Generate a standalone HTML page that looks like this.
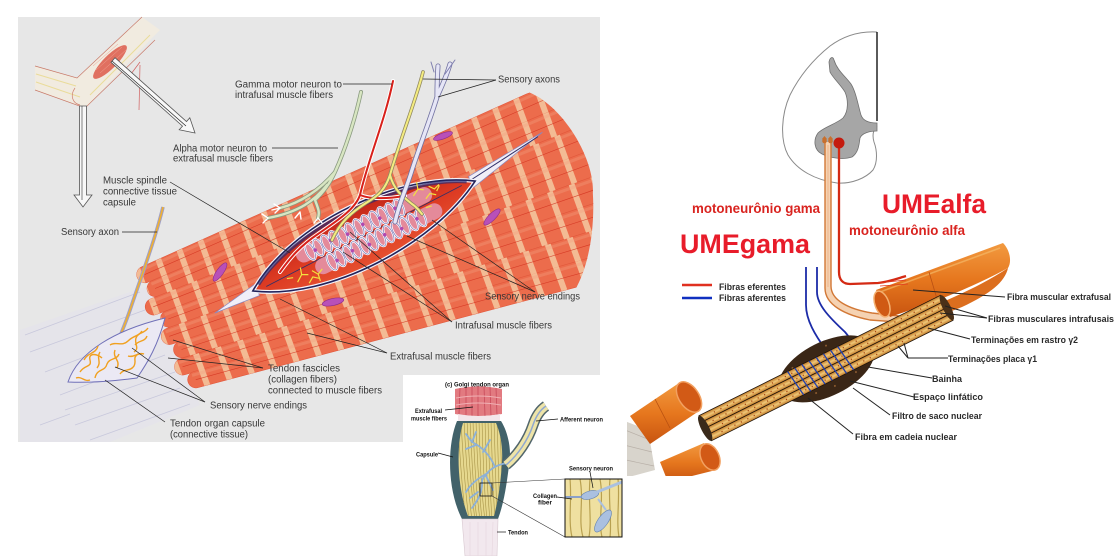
<!DOCTYPE html>
<html><head><meta charset="utf-8"><title>Muscle spindle and Golgi tendon organ</title>
<style>html,body{margin:0;padding:0;background:#fff;width:1116px;height:556px;overflow:hidden}svg{display:block}</style>
</head><body>
<svg xmlns="http://www.w3.org/2000/svg" width="1116" height="556" viewBox="0 0 1116 556" font-family="'Liberation Sans', sans-serif">
<defs>
<clipPath id="cap"><path d="M-40,-145 L432,-106 C460,-80 470,-20 457,10 C445,50 425,80 407,95 L-40,125 Z"/></clipPath>
<pattern id="s0" patternUnits="userSpaceOnUse" width="23" height="300"><rect x="0" y="0" width="6" height="300" fill="#f5c9a2"/></pattern>
<pattern id="s1" patternUnits="userSpaceOnUse" width="23" height="300" patternTransform="translate(3,0)"><rect x="0" y="0" width="6" height="300" fill="#f5c9a2"/></pattern>
<linearGradient id="org" x1="0" y1="0" x2="0" y2="1"><stop offset="0" stop-color="#f29a40"/><stop offset=".5" stop-color="#e6771e"/><stop offset="1" stop-color="#c85410"/></linearGradient>
<linearGradient id="tube" x1="0" y1="0" x2="0" y2="1"><stop offset="0" stop-color="#c07828"/><stop offset=".5" stop-color="#f0c878"/><stop offset="1" stop-color="#c07828"/></linearGradient>
<linearGradient id="spR" x1="0" y1="0" x2="0" y2="1"><stop offset="0" stop-color="#c0241a"/><stop offset=".5" stop-color="#dc3a22"/><stop offset="1" stop-color="#e65030"/></linearGradient>
<clipPath id="rclip"><rect x="600" y="0" width="516" height="476"/></clipPath>
<clipPath id="capsIn"><path d="M463,423 C456,446 457,488 468,516 L494,516 C499,497 501,478 502,462 C503,446 500,432 496,423Z"/></clipPath>
<clipPath id="zbox"><rect x="565" y="479" width="57" height="58"/></clipPath>
</defs>

<rect width="1116" height="556" fill="#fff"/>
<!-- LEFT PANEL -->
<rect x="18" y="17" width="582" height="425" fill="#e7e7e7"/>

<!-- arm sketch -->
<path d="M35,66 L77,78 L142,17 L160,30 L150,40 L85,108 L35,90Z" fill="#f1ebe0"/>
<path d="M35,66 L77,78 L142,17 M35,90 L85,108 L155,40" stroke="#c87a6a" stroke-width="0.7" fill="none"/>
<path d="M36,74 L76,86 M36,82 L80,97 M90,95 L150,35" stroke="#eadc9a" stroke-width="1" fill="none"/>
<path d="M75,88 C70,95 72,103 80,105" stroke="#d08070" stroke-width="0.7" fill="none"/>
<ellipse cx="110" cy="62" rx="23" ry="6.5" transform="rotate(-45 110 62)" fill="#e07060"/>
<path d="M96,70 L122,47 M100,73 L126,50 M93,66 L118,44" stroke="#f0a090" stroke-width="0.5"/>
<path d="M140,65 L139,110 M140,62 L131,74" stroke="#d06060" stroke-width="0.7" fill="none"/>
<!-- hollow arrows -->
<path d="M111,62.3 L182.5,126.1 L179.2,129.8 L195,133 L189.8,117.8 L186.5,121.5 L115,57.7Z" fill="#f8f8f8" stroke="#555" stroke-width="0.8"/>
<path d="M112,61 L186,126" stroke="#222" stroke-width="0.7"/>
<path d="M79.5,106 L79.5,195 L74,195 L83,207 L92,195 L86.5,195 L86.5,106Z" fill="#f8f8f8" stroke="#555" stroke-width="0.8"/>
<path d="M82,106 L82,200" stroke="#333" stroke-width="0.6"/>

<!-- tendon haze & lines -->
<path d="M20,330 L150,285 L200,405 L110,442 L20,442Z" fill="#e4e2f0" opacity=".4"/>
<g stroke="#c8c8dc" stroke-width="0.8">
<line x1="25" y1="335" x2="140" y2="292"/><line x1="30" y1="352" x2="145" y2="310"/>
<line x1="45" y1="372" x2="150" y2="332"/><line x1="60" y1="395" x2="165" y2="355"/>
<line x1="65" y1="410" x2="175" y2="372"/><line x1="75" y1="425" x2="180" y2="388"/>
<line x1="90" y1="440" x2="190" y2="404"/><line x1="40" y1="425" x2="70" y2="414"/>
</g>

<!-- muscle bundle -->
<g transform="translate(160,340) rotate(-20)">
<g clip-path="url(#cap)">
<g fill="#ec6c4c" stroke="#e2583c" stroke-width="0.6">
<path d="M8.3,-75 L480,-109.6 L480,-83.5 L8.3,-58.4 A8.3,8.3 0 0 1 8.3,-75Z"/>
<path d="M13.3,-58.4 L480,-83.5 L480,-57.4 L13.3,-41.8 A8.3,8.3 0 0 1 13.3,-58.4Z"/>
<path d="M5.3,-41.8 L480,-57.4 L480,-31.3 L5.3,-25.2 A8.3,8.3 0 0 1 5.3,-41.8Z"/>
<path d="M15.3,-25.2 L480,-31.3 L480,-5.3 L15.3,-8.6 A8.3,8.3 0 0 1 15.3,-25.2Z"/>
<path d="M10.3,-8.6 L480,-5.3 L480,20.8 L10.3,8 A8.3,8.3 0 0 1 10.3,-8.6Z"/>
<path d="M17.3,8 L480,20.8 L480,46.9 L17.3,24.6 A8.3,8.3 0 0 1 17.3,8Z"/>
<path d="M12.3,24.6 L480,46.9 L480,73 L12.3,41.2 A8.3,8.3 0 0 1 12.3,24.6Z"/>
<path d="M20.3,41.2 L480,73 L480,99.1 L20.3,57.8 A8.3,8.3 0 0 1 20.3,41.2Z"/>
</g>
<g opacity=".85">
<path d="M8.3,-75 L480,-109.6 L480,-83.5 L8.3,-58.4 A8.3,8.3 0 0 1 8.3,-75Z" fill="url(#s0)"/>
<path d="M13.3,-58.4 L480,-83.5 L480,-57.4 L13.3,-41.8 A8.3,8.3 0 0 1 13.3,-58.4Z" fill="url(#s0)"/>
<path d="M5.3,-41.8 L480,-57.4 L480,-31.3 L5.3,-25.2 A8.3,8.3 0 0 1 5.3,-41.8Z" fill="url(#s1)"/>
<path d="M15.3,-25.2 L480,-31.3 L480,-5.3 L15.3,-8.6 A8.3,8.3 0 0 1 15.3,-25.2Z" fill="url(#s1)"/>
<path d="M10.3,-8.6 L480,-5.3 L480,20.8 L10.3,8 A8.3,8.3 0 0 1 10.3,-8.6Z" fill="url(#s0)"/>
<path d="M17.3,8 L480,20.8 L480,46.9 L17.3,24.6 A8.3,8.3 0 0 1 17.3,8Z" fill="url(#s0)"/>
<path d="M12.3,24.6 L480,46.9 L480,73 L12.3,41.2 A8.3,8.3 0 0 1 12.3,24.6Z" fill="url(#s1)"/>
<path d="M20.3,41.2 L480,73 L480,99.1 L20.3,57.8 A8.3,8.3 0 0 1 20.3,41.2Z" fill="url(#s1)"/>
</g>
<g stroke="#f4a080" stroke-width="3" opacity=".35">
<line x1="6" y1="-72" x2="480" y2="-106"/><line x1="11" y1="-55.4" x2="480" y2="-80"/>
<line x1="3" y1="-38.8" x2="480" y2="-54"/><line x1="13" y1="-22.2" x2="480" y2="-27.8"/>
<line x1="8" y1="-5.6" x2="480" y2="-1.8"/><line x1="15" y1="11" x2="480" y2="24.3"/>
<line x1="10" y1="27.6" x2="480" y2="50.4"/><line x1="18" y1="44.2" x2="480" y2="76.5"/>
</g>
<g stroke="#d2301e" stroke-width="0.6" opacity=".8">
<line x1="8" y1="-66.7" x2="480" y2="-96.6"/><line x1="13" y1="-50.1" x2="480" y2="-70.5"/>
<line x1="5" y1="-33.5" x2="480" y2="-44.4"/><line x1="15" y1="-16.9" x2="480" y2="-18.3"/>
<line x1="10" y1="-0.3" x2="480" y2="7.8"/><line x1="17" y1="16.3" x2="480" y2="33.9"/>
<line x1="12" y1="32.9" x2="480" y2="60"/><line x1="20" y1="49.5" x2="480" y2="86"/>
</g>
</g>
</g>
<!-- nuclei -->
<g fill="#b850b8" stroke="#8a2a8a" stroke-width="0.6">
<ellipse cx="443" cy="136" rx="10" ry="3" transform="rotate(-20 443 136)"/>
<ellipse cx="492" cy="217" rx="11" ry="3.5" transform="rotate(-45 492 217)"/>
<ellipse cx="333" cy="302" rx="11" ry="3.5" transform="rotate(-12 333 302)"/>
<ellipse cx="220" cy="272" rx="11" ry="3.5" transform="rotate(-55 220 272)"/>
</g>

<!-- spindle -->
<g transform="translate(364,236) rotate(-26.3)">
<path d="M-120,-5 L-168,3 L-120,7 Z" fill="#f0eef8" stroke="#8888c0" stroke-width="0.7"/>
<path d="M120,-7 L206,-14 L120,5 Z" fill="#f0eef8" stroke="#8888c0" stroke-width="0.7"/>
<path d="M122,-3 L200,-12" stroke="#30306a" stroke-width="1"/>
<path d="M-124,0 C-60,-44 60,-42 124,0 C60,38 -60,42 -124,0Z" fill="url(#spR)" stroke="#f4f2fa" stroke-width="4"/>
<path d="M-124,0 C-60,-44 60,-42 124,0 C60,38 -60,42 -124,0Z" fill="none" stroke="#22225a" stroke-width="1.6"/>
<path d="M-116,-3 C-60,-38 60,-36 116,-3" stroke="#2a2a70" stroke-width="3" fill="none" opacity=".7"/>
<line x1="-110" y1="2" x2="110" y2="-2" stroke="#30306a" stroke-width="0.8"/>
<rect x="-70" y="-18" width="150" height="16" rx="8" fill="#e48a9a"/>
<rect x="-58" y="1" width="140" height="16" rx="8" fill="#e48a9a"/>
<g fill="none" stroke="#fff" stroke-width="2.2">
<ellipse cx="-55" cy="-10" rx="4" ry="9"/><ellipse cx="-46" cy="-10" rx="4" ry="9"/><ellipse cx="-37" cy="-10" rx="4" ry="9"/><ellipse cx="-28" cy="-10" rx="4" ry="9"/><ellipse cx="-19" cy="-10" rx="4" ry="9"/><ellipse cx="-10" cy="-10" rx="4" ry="9"/><ellipse cx="-1" cy="-10" rx="4" ry="9"/><ellipse cx="8" cy="-10" rx="4" ry="9"/><ellipse cx="17" cy="-10" rx="4" ry="9"/><ellipse cx="26" cy="-10" rx="4" ry="9"/><ellipse cx="35" cy="-10" rx="4" ry="9"/><ellipse cx="44" cy="-10" rx="4" ry="9"/>
<ellipse cx="-40" cy="9" rx="4" ry="9"/><ellipse cx="-31" cy="9" rx="4" ry="9"/><ellipse cx="-22" cy="9" rx="4" ry="9"/><ellipse cx="-13" cy="9" rx="4" ry="9"/><ellipse cx="-4" cy="9" rx="4" ry="9"/><ellipse cx="5" cy="9" rx="4" ry="9"/><ellipse cx="14" cy="9" rx="4" ry="9"/><ellipse cx="23" cy="9" rx="4" ry="9"/><ellipse cx="32" cy="9" rx="4" ry="9"/><ellipse cx="41" cy="9" rx="4" ry="9"/><ellipse cx="50" cy="9" rx="4" ry="9"/><ellipse cx="59" cy="9" rx="4" ry="9"/>
</g>
<g fill="none" stroke="#7a7ab8" stroke-width="0.7">
<ellipse cx="-55" cy="-10" rx="4" ry="9"/><ellipse cx="-46" cy="-10" rx="4" ry="9"/><ellipse cx="-37" cy="-10" rx="4" ry="9"/><ellipse cx="-28" cy="-10" rx="4" ry="9"/><ellipse cx="-19" cy="-10" rx="4" ry="9"/><ellipse cx="-10" cy="-10" rx="4" ry="9"/><ellipse cx="-1" cy="-10" rx="4" ry="9"/><ellipse cx="8" cy="-10" rx="4" ry="9"/><ellipse cx="17" cy="-10" rx="4" ry="9"/><ellipse cx="26" cy="-10" rx="4" ry="9"/><ellipse cx="35" cy="-10" rx="4" ry="9"/><ellipse cx="44" cy="-10" rx="4" ry="9"/>
<ellipse cx="-40" cy="9" rx="4" ry="9"/><ellipse cx="-31" cy="9" rx="4" ry="9"/><ellipse cx="-22" cy="9" rx="4" ry="9"/><ellipse cx="-13" cy="9" rx="4" ry="9"/><ellipse cx="-4" cy="9" rx="4" ry="9"/><ellipse cx="5" cy="9" rx="4" ry="9"/><ellipse cx="14" cy="9" rx="4" ry="9"/><ellipse cx="23" cy="9" rx="4" ry="9"/><ellipse cx="32" cy="9" rx="4" ry="9"/><ellipse cx="41" cy="9" rx="4" ry="9"/><ellipse cx="50" cy="9" rx="4" ry="9"/><ellipse cx="59" cy="9" rx="4" ry="9"/>
</g>
<g fill="#b048b0">
<circle cx="-50" cy="-9" r="1.8"/><circle cx="-32" cy="-11" r="1.8"/><circle cx="-14" cy="-9" r="1.8"/><circle cx="4" cy="-11" r="1.8"/><circle cx="22" cy="-9" r="1.8"/><circle cx="40" cy="-11" r="1.8"/>
<circle cx="-35" cy="10" r="1.8"/><circle cx="-17" cy="8" r="1.8"/><circle cx="1" cy="10" r="1.8"/><circle cx="19" cy="8" r="1.8"/><circle cx="37" cy="10" r="1.8"/><circle cx="55" cy="8" r="1.8"/>
</g>
<g stroke="#f2e040" stroke-width="1.2" fill="none">
<path d="M-80,12 l7,-5 l6,3 m-6,-3 l2,-7 M-70,18 l6,-4 l5,4 M-62,8 l4,6 l6,-3 m-6,3 l-1,7 M-88,4 l6,2"/>
<path d="M62,-14 l7,-4 l5,3 m-5,-3 l2,-7 M72,-6 l6,-3 l5,4 M80,-16 l4,5 l6,-2 M68,2 l6,1 M85,-8 l5,-4"/>
</g>
</g>

<!-- nerves -->
<g fill="none" stroke-linecap="round">
<path d="M361,92 C355,120 345,150 335,172 C330,183 324,192 315,200 M335,172 C320,190 300,203 280,208 M327,185 C315,200 300,212 268,218 M315,200 C318,208 320,212 318,218" stroke="#8a9a80" stroke-width="4"/>
<path d="M361,92 C355,120 345,150 335,172 C330,183 324,192 315,200 M335,172 C320,190 300,203 280,208 M327,185 C315,200 300,212 268,218 M315,200 C318,208 320,212 318,218" stroke="#d8e6c2" stroke-width="2.4"/>
<g stroke="#fff" stroke-width="1.4"><path d="M280,208 l-6,-4 m6,4 l-5,5 m5,-5 l-8,2 M268,218 l-6,-4 m6,4 l-5,5 M318,218 l-4,5 m4,-5 l4,5 M300,212 l-5,6 m5,-6 l1,7"/></g>
<path d="M393,81 C385,120 368,160 360,195 C355,210 335,222 318,234 C300,246 290,258 280,272 M360,195 C372,200 392,198 405,196" stroke="#fff" stroke-width="4"/>
<path d="M393,81 C385,120 368,160 360,195 C355,210 335,222 318,234 C300,246 290,258 280,272 M360,195 C372,200 392,198 405,196" stroke="#d8201a" stroke-width="2"/>
<path d="M423,72 C416,100 400,140 390,175 C385,190 378,196 366,203 C352,212 340,222 332,240 M390,175 C394,190 402,196 412,204 C418,208 420,212 422,214" stroke="#908860" stroke-width="3.6"/>
<path d="M423,72 C416,100 400,140 390,175 C385,190 378,196 366,203 C352,212 340,222 332,240 M390,175 C394,190 402,196 412,204 C418,208 420,212 422,214" stroke="#f4ec80" stroke-width="2"/>
<path d="M438,66 C437,80 437,90 437,97 C430,120 420,145 412,170 C406,190 400,200 395,222 M450,64 C446,78 440,90 437,97" stroke="#7070a0" stroke-width="5"/>
<path d="M438,66 C437,80 437,90 437,97 C430,120 420,145 412,170 C406,190 400,200 395,222 M450,64 C446,78 440,90 437,97" stroke="#e6e6f6" stroke-width="3.4"/>
<path d="M455,60 L445,74 M431,62 L434,72" stroke="#8080b0" stroke-width="1"/>
</g>

<!-- tendon organ -->
<path d="M163,207 C155,240 140,280 130,310 C125,325 118,340 115,350" stroke="#a0a0c4" stroke-width="3.6" fill="none"/>
<path d="M163,207 C155,240 140,280 130,310 C125,325 118,340 115,350" stroke="#f0b030" stroke-width="1.6" fill="none"/>
<path d="M68,382 C78,352 115,330 165,318 C158,345 148,362 137,378 C115,381 90,383 68,382Z" fill="#ebe9f4" stroke="#7070b8" stroke-width="1"/>
<g stroke="#f0a020" stroke-width="1.4" fill="none">
<path d="M80,372 c5,-8 12,-4 10,-12 s8,-6 12,-2"/><path d="M95,378 c2,-10 10,-6 12,-14 c2,-6 10,-4 12,-10"/>
<path d="M110,345 c6,-4 12,2 18,-4 s10,-4 14,-10"/><path d="M120,374 c4,-6 10,-2 14,-8 c3,-5 -2,-8 4,-12"/>
<path d="M148,328 c-4,6 -10,4 -12,10 s4,10 -2,14"/><path d="M128,356 c6,2 10,-4 16,-2"/>
<path d="M84,360 c4,-8 12,-6 14,-14"/><path d="M100,352 c-4,6 2,10 -3,16"/><path d="M115,350 c-3,8 6,10 2,18"/>
<path d="M135,345 c4,-5 10,-3 12,-9"/><path d="M76,378 c6,-2 8,4 14,2"/>
</g>

<!-- leader lines left -->
<g stroke="#222" stroke-width="0.7">
<line x1="343" y1="84" x2="392" y2="84"/>
<line x1="496" y1="80" x2="423" y2="79"/><line x1="496" y1="80" x2="438" y2="97"/>
<line x1="272" y1="148" x2="338" y2="148"/>
<line x1="170" y1="182" x2="290" y2="253"/>
<line x1="122" y1="232" x2="157" y2="232"/>
<line x1="535" y1="292" x2="432" y2="220"/><line x1="535" y1="292" x2="407" y2="236"/>
<line x1="452" y1="322" x2="350" y2="232"/><line x1="452" y1="322" x2="343" y2="252"/>
<line x1="387" y1="353" x2="280" y2="299"/><line x1="387" y1="353" x2="307" y2="333"/>
<line x1="263" y1="368" x2="173" y2="340"/><line x1="263" y1="368" x2="168" y2="358"/>
<line x1="205" y1="402" x2="132" y2="348"/><line x1="205" y1="402" x2="115" y2="367"/>
<line x1="165" y1="422" x2="105" y2="380"/>
</g>
<!-- left labels -->
<g fill="#383838" font-size="10">
<text x="235" y="87.5" textLength="107" lengthAdjust="spacingAndGlyphs">Gamma motor neuron to</text>
<text x="235" y="98" textLength="98" lengthAdjust="spacingAndGlyphs">intrafusal muscle fibers</text>
<text x="498" y="82.5" textLength="62" lengthAdjust="spacingAndGlyphs">Sensory axons</text>
<text x="173" y="151.5" textLength="94" lengthAdjust="spacingAndGlyphs">Alpha motor neuron to</text>
<text x="173" y="161.5" textLength="100" lengthAdjust="spacingAndGlyphs">extrafusal muscle fibers</text>
<text x="103" y="183.5" textLength="64" lengthAdjust="spacingAndGlyphs">Muscle spindle</text>
<text x="103" y="194.5" textLength="74" lengthAdjust="spacingAndGlyphs">connective tissue</text>
<text x="103" y="205.5" textLength="33" lengthAdjust="spacingAndGlyphs">capsule</text>
<text x="61" y="235" textLength="58" lengthAdjust="spacingAndGlyphs">Sensory axon</text>
<text x="485" y="299.5" textLength="95" lengthAdjust="spacingAndGlyphs">Sensory nerve endings</text>
<text x="455" y="328.5" textLength="97" lengthAdjust="spacingAndGlyphs">Intrafusal muscle fibers</text>
<text x="390" y="359.5" textLength="101" lengthAdjust="spacingAndGlyphs">Extrafusal muscle fibers</text>
<text x="268" y="371.5" textLength="72" lengthAdjust="spacingAndGlyphs">Tendon fascicles</text>
<text x="268" y="382.5" textLength="69" lengthAdjust="spacingAndGlyphs">(collagen fibers)</text>
<text x="268" y="393.5" textLength="114" lengthAdjust="spacingAndGlyphs">connected to muscle fibers</text>
<text x="210" y="408.5" textLength="97" lengthAdjust="spacingAndGlyphs">Sensory nerve endings</text>
<text x="170" y="426.5" textLength="95" lengthAdjust="spacingAndGlyphs">Tendon organ capsule</text>
<text x="170" y="437.5" textLength="78" lengthAdjust="spacingAndGlyphs">(connective tissue)</text>
</g>

<!-- RIGHT PANEL -->
<g clip-path="url(#rclip)">
<!-- spinal cord -->
<path d="M877,32 C860,31 845,35 830,46 C815,58 800,75 790,95 C781,115 780,140 788,155 C797,170 815,180 837,183 C852,184 866,178 873,170 C878,162 877,150 874,142 C872,135 873,130 877,126" stroke="#8a8a8a" stroke-width="1" fill="#fff"/>
<path d="M877,32 L877,121" stroke="#000" stroke-width="1.3"/>
<path d="M829,62 C830,57 833,56 834,60 C837,70 845,76 851,84 C856,92 858,105 861,115 C863,121 870,123 877,123 L877,131 C870,131 862,133 860,138 C859,146 858,153 852,157 C843,160 830,158 822,154 C814,150 813,140 818,133 C824,127 836,124 843,118 C849,111 848,99 845,92 C840,84 833,78 830,72 Z" fill="#a6a6a6" stroke="#707070" stroke-width="0.8"/>
<!-- axons -->
<path d="M828,142 L828,287 C828,302 846,312 871,316 L898,319" stroke="#f5d2b2" stroke-width="7" fill="none"/>
<path d="M825,142 L825,288 C825,305 845,315 870,320 L897,322 M831,142 L831,286 C831,300 848,309 872,313 L899,316" stroke="#d27836" stroke-width="1.4" fill="none"/>
<path d="M828,145 L828,287" stroke="#e8a070" stroke-width="0.6"/>
<path d="M822,139 l2.5,-3 l2.5,3 l-2.5,3z M828,139 l2.5,-3 l2.5,3 l-2.5,3z" fill="#c8702e"/>
<circle cx="824.5" cy="141" r="2.3" fill="#c8702e"/><circle cx="830.5" cy="141" r="2.3" fill="#c8702e"/>
<path d="M839,148 L839,272 C839,280 843,284 850,284 L878,283 C888,282 896,279 906,276" stroke="#d42a14" stroke-width="2.3" fill="none"/>
<circle cx="839" cy="143" r="5.5" fill="#c41a0e"/>
<!-- red texts -->
<g font-weight="bold" fill="#d9231f">
<text x="692" y="213" font-size="13.5" textLength="128" lengthAdjust="spacingAndGlyphs">motoneurônio gama</text>
<text x="849" y="235" font-size="13.5" textLength="116" lengthAdjust="spacingAndGlyphs">motoneurônio alfa</text>
</g>
<g font-weight="bold" fill="#e81c2a" font-size="27">
<text x="882" y="213" textLength="104" lengthAdjust="spacingAndGlyphs">UMEalfa</text>
<text x="680" y="253" textLength="130" lengthAdjust="spacingAndGlyphs">UMEgama</text>
</g>
<!-- legend -->
<line x1="682" y1="285" x2="712" y2="285" stroke="#e03020" stroke-width="2.5"/>
<line x1="682" y1="298" x2="712" y2="298" stroke="#1030c0" stroke-width="2.5"/>
<g font-weight="bold" fill="#2a2a2a" font-size="9">
<text x="719" y="290" textLength="67" lengthAdjust="spacingAndGlyphs">Fibras eferentes</text>
<text x="719" y="301" textLength="67" lengthAdjust="spacingAndGlyphs">Fibras aferentes</text>
</g>
<!-- blue afferents -->
<path d="M806,267 L806,305 C806,320 815,335 826,350 C832,360 835,368 838,375 M817,267 L817,292 C817,305 830,318 845,332 C852,340 856,350 860,362" stroke="#1c2ca8" stroke-width="1.8" fill="none"/>
<!-- extrafusal cylinder -->
<path d="M905,318 C935,305 975,290 1008,268 C1005,282 990,294 962,307 C940,316 920,321 905,318Z" fill="#dc6e1e"/>
<path d="M876,290 L1003,243 C1010,250 1012,262 1008,268 C990,278 960,292 925,305 L890,317 Z" fill="url(#org)"/>
<path d="M880,292 L1000,248" stroke="#f6c070" stroke-width="1.6" opacity=".6"/>
<path d="M929,272 L937,299" stroke="#b85014" stroke-width="0.8"/>
<ellipse cx="882" cy="304" rx="7" ry="13.5" transform="rotate(-20 882 304)" fill="#d05a14" stroke="#f4b070" stroke-width="1.5"/>
<path d="M878,283 L906,280 M880,286 L908,284" stroke="#e03a20" stroke-width="0.8"/>
<!-- lower-left cylinders -->
<path d="M622,420 L648,430 L655,470 L625,478Z" fill="#d8d4cc"/>
<path d="M625,430 L650,440 M624,445 L652,452 M626,460 L654,466" stroke="#b8b0a8" stroke-width="0.7"/>
<path d="M679,383 L630,416 L650,444 L699,411Z" fill="url(#org)"/>
<path d="M655,399 L670,428" stroke="#b85010" stroke-width="0.8"/>
<ellipse cx="689" cy="397" rx="10" ry="17" transform="rotate(-34 689 397)" fill="#d25a16" stroke="#f2a060" stroke-width="1.5"/>
<path d="M704,443 L660,462 L668,482 L716,470Z" fill="url(#org)"/>
<ellipse cx="710" cy="457" rx="9" ry="14" transform="rotate(-25 710 457)" fill="#d25a16" stroke="#f2a060" stroke-width="1.5"/>
<!-- spindle bundle -->
<g transform="translate(826,368) rotate(-26.5)">
<ellipse cx="0" cy="1" rx="52" ry="27" fill="#3a2616"/>
<g fill="#8a5a30"><circle cx="-30" cy="-15" r="1"/><circle cx="-20" cy="18" r="1"/><circle cx="10" cy="-20" r="1"/><circle cx="25" cy="17" r="1"/><circle cx="-40" cy="8" r="1"/><circle cx="38" cy="-10" r="1"/><circle cx="0" cy="20" r="1"/></g>
<rect x="-135" y="-14" width="270" height="7" fill="url(#tube)" stroke="#1e140a" stroke-width="0.8"/>
<rect x="-135" y="-7" width="270" height="7" fill="url(#tube)" stroke="#1e140a" stroke-width="0.8"/>
<rect x="-135" y="0" width="270" height="7" fill="url(#tube)" stroke="#1e140a" stroke-width="0.8"/>
<rect x="-135" y="7" width="270" height="7" fill="url(#tube)" stroke="#1e140a" stroke-width="0.8"/>
<g stroke="#a84010" stroke-width="1.2" stroke-dasharray="1.2 6">
<line x1="-120" y1="-10.5" x2="130" y2="-10.5"/><line x1="-125" y1="-3.5" x2="130" y2="-3.5"/>
<line x1="-118" y1="3.5" x2="130" y2="3.5"/><line x1="-122" y1="10.5" x2="130" y2="10.5"/>
</g>
<g stroke="#2040b0" stroke-width="1.3" fill="none">
<path d="M-36,-14 l4,28 M-28,-14 l4,28 M-20,-14 l4,28 M-12,-14 l4,28 M-4,-14 l4,28 M4,-14 l4,28 M12,-14 l4,28 M20,-14 l4,28"/>
</g>
<ellipse cx="-135" cy="0" rx="4" ry="14" fill="#3a2a1a"/>
<ellipse cx="135" cy="0" rx="4" ry="14" fill="#4a3018"/>
</g>
<!-- right leader lines -->
<g stroke="#222" stroke-width="1">
<line x1="1005" y1="297" x2="913" y2="290"/>
<line x1="987" y1="318" x2="940" y2="313"/><line x1="987" y1="318" x2="945" y2="306"/>
<line x1="970" y1="339" x2="928" y2="328"/>
<line x1="948" y1="358" x2="908" y2="358"/><line x1="908" y1="358" x2="898" y2="346"/><line x1="908" y1="358" x2="904" y2="343"/>
<line x1="932" y1="378" x2="868" y2="367"/>
<line x1="914" y1="397" x2="850" y2="381"/>
<line x1="890" y1="415" x2="853" y2="388"/>
<line x1="853" y1="434" x2="808" y2="398"/>
</g>
<g font-weight="bold" fill="#2a2a2a" font-size="9.5">
<text x="1007" y="300" textLength="104" lengthAdjust="spacingAndGlyphs">Fibra muscular extrafusal</text>
<text x="988" y="322" textLength="126" lengthAdjust="spacingAndGlyphs">Fibras musculares intrafusais</text>
<text x="971" y="343" textLength="107" lengthAdjust="spacingAndGlyphs">Terminações em rastro γ2</text>
<text x="948" y="362" textLength="89" lengthAdjust="spacingAndGlyphs">Terminações placa γ1</text>
<text x="932" y="382" textLength="30" lengthAdjust="spacingAndGlyphs">Bainha</text>
<text x="913" y="400" textLength="70" lengthAdjust="spacingAndGlyphs">Espaço linfático</text>
<text x="892" y="419" textLength="90" lengthAdjust="spacingAndGlyphs">Filtro de saco nuclear</text>
<text x="855" y="440" textLength="102" lengthAdjust="spacingAndGlyphs">Fibra em cadeia nuclear</text>
</g>
</g>

<!-- GOLGI INSET -->
<rect x="403" y="375" width="224" height="181" fill="#fff"/>
<path d="M455,389 Q478,384 502,389 L502,414 Q478,418 455,414Z" fill="#e27a80"/>
<g stroke="#c84a5a" stroke-width="0.8"><path d="M460,388 L459,414 M466,387 L466,415 M472,386 L472,416 M478,386 L478,416 M484,386 L485,416 M490,387 L491,416 M496,388 L497,415"/></g>
<path d="M456,398 Q478,394 501,398 M456,405 Q478,401 501,405" stroke="#f0b0b4" stroke-width="1" fill="none"/>
<path d="M458,414 Q479,418 500,414 L500,422 Q479,425 458,422Z" fill="#f3e6ea"/>
<path d="M457,421 C447,445 447,490 462,519 L498,519 C505,500 507,480 509,466 C512,450 508,432 501,421 Z" fill="#42626a"/>
<path d="M463,423 C456,446 457,488 468,516 L494,516 C499,497 501,478 502,462 C503,446 500,432 496,423Z" fill="#e6d88e"/>
<g clip-path="url(#capsIn)" stroke="#a89448" stroke-width="0.6" fill="none">
<path d="M458,420 C460,460 462,490 466,520 M461,420 C463,460 465,490 469,520 M464,420 C466,460 468,490 472,520 M467,420 C469,460 471,490 475,520 M470,420 C472,460 473,490 477,520 M473,420 C474,460 476,490 480,520 M476,420 C477,460 479,490 482,520 M479,420 C480,460 481,490 485,520 M482,420 C483,460 484,490 487,520 M485,420 C486,460 487,490 490,520 M488,420 C489,460 490,490 492,520 M491,420 C492,460 493,490 495,520 M494,420 C495,460 496,490 497,520 M497,420 C498,460 499,490 500,520 M500,420 C501,460 502,490 503,520"/>
</g>
<g stroke="#8cb0d8" stroke-width="1.8" fill="none" stroke-linecap="round">
<path d="M507,463 C495,465 488,470 482,480 C483,492 478,500 472,508"/>
<path d="M495,467 C490,455 482,447 472,442 L466,434"/>
<path d="M488,473 C478,478 470,485 466,492"/>
<path d="M476,445 L466,449 M483,452 L490,440 M478,492 L470,498 M486,476 L493,490 M472,442 L476,432"/>
</g>
<path d="M462,519 L498,519 L497,556 L465,556Z" fill="#f2e8ee" stroke="#d8c8d0" stroke-width=".6"/>
<path d="M470,522 L470,556 M478,522 L478,556 M486,522 L486,556 M493,522 L492,556" stroke="#e6d6de" stroke-width=".6"/>
<path d="M506,465 C518,455 528,440 533,425 C536,416 540,410 546,406" stroke="#52666c" stroke-width="11" fill="none"/>
<path d="M506,465 C518,455 528,440 533,425 C536,416 540,410 546,406" stroke="#eee4a8" stroke-width="8" fill="none"/>
<path d="M506,465 C518,455 528,440 533,425 C536,416 540,410 546,406" stroke="#90a8d0" stroke-width="1.5" fill="none"/>
<!-- small square + zoom box -->
<rect x="480" y="483" width="12" height="13" fill="none" stroke="#111" stroke-width="0.8"/>
<line x1="492" y1="483" x2="565" y2="479" stroke="#333" stroke-width="0.6"/>
<line x1="492" y1="496" x2="565" y2="537" stroke="#333" stroke-width="0.6"/>
<rect x="565" y="479" width="57" height="58" fill="#efe0a0"/>
<g clip-path="url(#zbox)" fill="none">
<path d="M570,479 C572,500 568,520 572,537 M580,479 C584,500 578,520 583,537 M590,479 C588,500 592,520 589,537 M600,479 C604,500 598,520 602,537 M610,479 C608,500 612,520 610,537 M618,479 C620,500 616,520 619,537" stroke="#b8a050" stroke-width="1.2"/>
<path d="M565,497 L582,497" stroke="#8aa0c8" stroke-width="2"/>
<ellipse cx="590" cy="495" rx="9" ry="4" transform="rotate(-15 590 495)" fill="#aac0e0" stroke="#6080b0" stroke-width=".6"/>
<path d="M597,492 L622,482" stroke="#aac0e0" stroke-width="3"/>
<ellipse cx="603" cy="521" rx="5" ry="13" transform="rotate(35 603 521)" fill="#aac0e0" stroke="#6080b0" stroke-width=".6"/>
<path d="M598,499 L606,510" stroke="#aac0e0" stroke-width="2"/>
</g>
<rect x="565" y="479" width="57" height="58" fill="none" stroke="#111" stroke-width="1"/>
<!-- inset leaders -->
<g stroke="#111" stroke-width="0.7">
<line x1="445" y1="410" x2="473" y2="407"/><line x1="558" y1="419" x2="536" y2="421"/>
<line x1="438" y1="453" x2="453" y2="457"/><line x1="506" y1="532" x2="497" y2="532"/>
<line x1="590" y1="472" x2="593" y2="488"/><line x1="557" y1="497" x2="572" y2="499"/>
</g>
<g font-weight="bold" fill="#111" font-size="6.5">
<text x="445" y="386.5" textLength="64" lengthAdjust="spacingAndGlyphs">(c) Golgi tendon organ</text>
<text x="415" y="413" textLength="27" lengthAdjust="spacingAndGlyphs">Extrafusal</text>
<text x="411" y="420.5" textLength="36" lengthAdjust="spacingAndGlyphs">muscle fibers</text>
<text x="560" y="421.5" textLength="43" lengthAdjust="spacingAndGlyphs">Afferent neuron</text>
<text x="416" y="456.5" textLength="22" lengthAdjust="spacingAndGlyphs">Capsule</text>
<text x="569" y="470.5" textLength="44" lengthAdjust="spacingAndGlyphs">Sensory neuron</text>
<text x="533" y="498" textLength="24" lengthAdjust="spacingAndGlyphs">Collagen</text>
<text x="538" y="504.5" textLength="14" lengthAdjust="spacingAndGlyphs">fiber</text>
<text x="508" y="534.5" textLength="20" lengthAdjust="spacingAndGlyphs">Tendon</text>
</g>
</svg>
</body></html>
